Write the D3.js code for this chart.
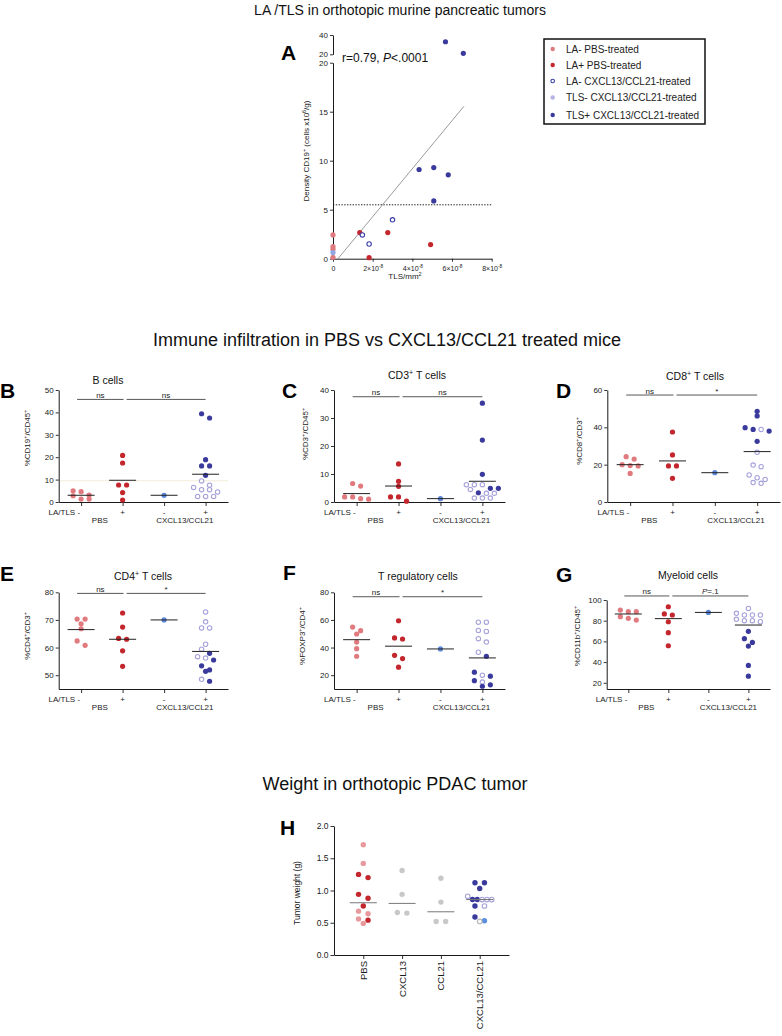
<!DOCTYPE html>
<html><head><meta charset="utf-8">
<script src="https://cdn.jsdelivr.net/npm/d3@7"></script>
<style>body{margin:0;background:#fff}svg{display:block}</style>
</head><body><svg id="c" width="782" height="1036"></svg>
<script>
// ================= DATA =================
const sectionTitles = ["LA /TLS in orthotopic murine pancreatic tumors",
  "Immune infiltration in PBS vs CXCL13/CCL21 treated mice",
  "Weight in orthotopic PDAC tumor"];

// ---- Panel A ----
const aSeries = ["LA- PBS-treated","LA+ PBS-treated","LA- CXCL13/CCL21-treated","TLS- CXCL13/CCL21-treated","TLS+ CXCL13/CCL21-treated"];
const aX = [0,0,0,0, 0, 1.35e-8,1.82e-8,2.76e-8,4.92e-8, 1.48e-8,1.82e-8,3.0e-8, 4.34e-8,5.08e-8,5.81e-8,5.08e-8,5.67e-8,6.57e-8];
const aY = [2.43,1.23,0.96,0.14, 0.62, 2.67,0.1,2.67,1.44, 2.43,1.5,3.97, 9.1,9.3,8.56,5.9,33,21];
const aS = [0,0,0,0, 3, 1,1,1,1, 2,2,2, 4,4,4,4,4,4];
const aTicksX = [0,2e-8,4e-8,6e-8,8e-8];
const aTicksYLow = [0,5,10,15,20];
const aTicksYHigh = [20,40];
const aFitX = [0.25e-8, 6.6e-8];
const aFitY = [0, 15.55];
const aThreshold = 5.5;

// ---- Panels B-G ----
const immuneGroups = ["PBS -","PBS +","CXCL13/CCL21 -","CXCL13/CCL21 +"];
const panelTitles = ["B cells","CD3+ T cells","CD8+ T cells","CD4+ T cells","T regulatory cells","Myeloid cells"];

const bVals = [[5.0,4.6,3.1,2.8,1.3,1.3],[20.8,17.4,7.6,7.6,4.2,0.9],[3.0],[39.4,37.5,18.9,16.1,16.1,11.9]];
const bOpen = [9.4,7.5,6.5,5.5,5.5,4.5,2.5,2.5,2.5];
const bMedians = [3.0,9.7,3.0,12.4];
const bSig = ["ns","ns"], bSigLevel = 45.8, bRefLine = 9.5;

const cVals = [[6.6,5.7,1.8,1.8,1.2,1.0],[13.6,7.4,5.6,1.8,1.8,0.3],[1.2],[35.3,22.1,9.9,4.9,4.9,3.3]];
const cOpen = [6.2,6.2,6.2,4.5,3.1,3.1,1.4,1.4,1.4];
const cMedians = [3.0,5.7,1.2,7.4];
const cSig = ["ns","ns"], cSigLevel = 37.6;

const dVals = [[24.3,23.0,20.0,19.5,19.3,15.3],[37.5,25.2,19.3,19.3,12.7],[15.7],[48.6,46.1,39.8,38.9,38.0,32.5]];
const dOpen = [38.9,26.6,19.8,18.9,14.5,13.0,12.1,10.4,10.0];
const dMedians = [20.0,22.0,15.7,27.0];
const dSig = ["ns","*"], dSigLevel = 57.3;

const eVals = [[70.3,70.3,68.6,66.8,62.4,60.8],[72.5,67.4,63.3,63.0,58.8,53.2],[70.0],[57.9,55.5,53.4,51.9,51.4,47.8]];
const eOpen = [72.9,69.3,67.1,67.1,61.2,59.4,56.7,56.2,48.5];
const eMedians = [66.5,63.0,70.0,58.6];
const eSig = ["ns","*"], eSigLevel = 79.6;

const fVals = [[54.8,52.2,49.8,44.0,39.2,33.7],[59.4,47.0,46.2,34.4,32.0,25.8],[39.0],[33.7,22.2,19.3,16.0,13.0,12.0]];
const fOpen = [58.4,58.4,52.4,51.7,46.4,44.0,36.6,20.0,15.0];
const fMedians = [45.7,41.0,39.0,32.5];
const fSig = ["ns","*"], fSigLevel = 76.8;

const gVals = [[90.3,88.7,88.7,83.9,82.3,80.6],[93.5,86.5,85.5,79.0,68.4,55.8],[88.0],[69.7,62.6,59.0,55.5,36.8,26.4]];
const gOpen = [91.9,87.1,85.5,85.5,85.5,81.3,80.0,80.0,79.0];
const gMedians = [86.5,82.0,88.0,75.8];
const gSig = ["ns","P=.1"], gSigLevel = 103.9;

// ---- Panel H ----
const hGroups = ["PBS","CXCL13","CCL21","CXCL13/CCL21"];
const hPbsNeg = [1.71,1.42,0.68,0.64,0.56,0.49];
const hPbsPos = [1.25,1.20,0.94,0.88,0.76,0.54];
const hCxcl13 = [1.31,0.94,0.66,0.65];
const hCcl21 = [1.19,0.82,0.52,0.52];
const hComboFilled = [1.12,1.12,1.03,0.86,0.86,0.76,0.59];
const hComboOpen = [0.91,0.86,0.86,0.76,0.86];
const hComboGrayOpen = [0.52];
const hComboLight = [0.53];
const hMedians = [0.81,0.80,0.67,0.86];
const hTicks = [0,0.5,1.0,1.5,2.0];

// ================= DRAW =================
const FONT = '"Liberation Sans", Arial, Helvetica, sans-serif';
const svg = d3.select("#c").attr("font-family", FONT);
const INK = "#1a1a1a";
const ST = {
  pbsNeg: {fill:"#e07a7f"}, pbsPos:{fill:"#c3262c"}, cxNeg:{fill:"#5b85d6"},
  cxOpen: {fill:"#fff", stroke:"#a6a2da"}, cxPos:{fill:"#393a9c"},
  laNegCx:{fill:"#fff", stroke:"#3b3fa6"}, tlsNegA:{fill:"#8ea6e4"}, tlsNegLeg:{fill:"#b5b3e2"},
  pbsNegH:{fill:"#e8999d"}, gray:{fill:"#c8c8c8"}, grayOpen:{fill:"#fff", stroke:"#b8b8b8"}, light:{fill:"#5b8fe0"}
};
const aStyleKeys = ["pbsNeg","pbsPos","laNegCx","tlsNegA","cxPos"];
const aLegendKeys = ["pbsNeg","pbsPos","laNegCx","tlsNegLeg","cxPos"];

function dot(g, x, y, key, r) {
  const s = ST[key];
  const c = g.append("circle").attr("cx", x).attr("cy", y);
  if (s.stroke) c.attr("r", (r||2.6)-0.4).attr("fill", s.fill).attr("stroke", s.stroke).attr("stroke-width", 1.1);
  else c.attr("r", r||2.6).attr("fill", s.fill);
}
function rich(t, parts, size) {
  let up = false;
  parts.forEach(([s, k]) => {
    const ts = t.append("tspan").text(s);
    if (k === "sup") { ts.attr("font-size", size*0.68).attr("dy", up ? 0 : -size*0.42); up = true; }
    else { ts.attr("dy", up ? size*0.42 : 0); up = false; if (k === "i") ts.attr("font-style","italic"); }
  });
  return t;
}
function supParts(str) {
  const parts = []; const re = /([A-Za-z0-9])\+/g; let last = 0, m;
  while ((m = re.exec(str))) { parts.push([str.slice(last, m.index+1), ""]); parts.push(["+","sup"]); last = m.index+2; }
  parts.push([str.slice(last), ""]); return parts;
}
function axisStyle(g, fs) {
  g.attr("font-family", FONT).attr("font-size", fs);
  g.selectAll("path.domain").attr("stroke", INK).attr("stroke-width", 1);
  g.selectAll(".tick line").attr("stroke", INK).attr("stroke-width", 0.9);
  g.selectAll(".tick text").attr("fill", INK);
}
function letter(x, y, s) {
  svg.append("text").attr("x", x).attr("y", y).attr("font-size", 21).attr("font-weight", "bold").attr("fill", "#000").text(s);
}
// GraphPad-like scatter: points with close y-values share a row, centred on the column
function scatterRows(vals, x0, y, s, maxHalf, thr) {
  const pts = vals.slice().sort((a, b) => b.v - a.v);
  pts.forEach(p => p.y = y(p.v));
  const bins = [];
  pts.forEach(p => {
    const b = bins[bins.length - 1];
    if (b && Math.abs(p.y - b[0].y) < thr) b.push(p); else bins.push([p]);
  });
  bins.forEach(b => {
    const n = b.length;
    const sp = n > 1 ? Math.min(s, 2 * maxHalf / (n - 1)) : 0;
    b.forEach((p, i) => p.x = x0 + (i - (n - 1) / 2) * sp);
  });
  return pts;
}

// Section titles
svg.append("text").attr("x", 400).attr("y", 15).attr("text-anchor","middle").attr("font-size", 14).attr("fill","#111").text(sectionTitles[0]);
svg.append("text").attr("x", 387).attr("y", 346).attr("text-anchor","middle").attr("font-size", 18).attr("fill","#111").text(sectionTitles[1]);
svg.append("text").attr("x", 395).attr("y", 790).attr("text-anchor","middle").attr("font-size", 18).attr("fill","#111").text(sectionTitles[2]);

// ---------- Panel A ----------
(function(){
  const g = svg.append("g");
  const x = d3.scaleLinear().domain([0, 8e-8]).range([333, 491.7]);
  const yLow = d3.scaleLinear().domain([0, 20]).range([258.7, 62.7]);
  const yHigh = d3.scaleLinear().domain([20, 40]).range([54.3, 35]);
  const y = v => v <= 20 ? yLow(v) : yHigh(v);
  g.append("g").attr("transform","translate(333,0)").call(d3.axisLeft(yLow).tickValues(aTicksYLow).tickSize(3).tickPadding(2).tickSizeOuter(0)).call(axisStyle, 8);
  g.append("g").attr("transform","translate(333,0)").call(d3.axisLeft(yHigh).tickValues(aTicksYHigh).tickSize(3).tickPadding(2).tickSizeOuter(0)).call(axisStyle, 8);
  const xa = g.append("g").attr("transform","translate(0,258.7)").call(d3.axisBottom(x).tickValues(aTicksX).tickSize(3).tickPadding(3).tickSizeOuter(0).tickFormat("")).call(axisStyle, 7);
  xa.selectAll(".tick").each(function(d){
    const t = d3.select(this).append("text").attr("y", 12).attr("text-anchor","middle").attr("fill", INK).attr("font-size", 7);
    if (d === 0) t.text("0"); else rich(t, [[String(Math.round(d/1e-8)) + "×10", ""], ["-8","sup"]], 7);
  });
  g.append("line").attr("x1", x(0)).attr("x2", x(8e-8)).attr("y1", y(aThreshold)).attr("y2", y(aThreshold))
    .attr("stroke", "#222").attr("stroke-width", 1).attr("stroke-dasharray", "1.4,1.4");
  g.append("line").attr("x1", x(aFitX[0])).attr("y1", y(aFitY[0])).attr("x2", x(aFitX[1])).attr("y2", y(aFitY[1]))
    .attr("stroke", "#9a9a9a").attr("stroke-width", 1);
  aX.forEach((xv, i) => dot(g, x(xv), y(aY[i]), aStyleKeys[aS[i]], 2.6));
  rich(g.append("text").attr("x", 342).attr("y", 62).attr("font-size", 12).attr("fill", "#111"),
    [["r=0.79, ",""],["P","i"],["<.0001",""]], 12);
  rich(g.append("text").attr("transform","translate(309,151) rotate(-90)").attr("text-anchor","middle").attr("font-size", 8).attr("fill", INK),
    [["Density CD19",""],["+","sup"],[" (cells x10",""],["6","sup"],["/g)",""]], 8);
  rich(g.append("text").attr("x", 405).attr("y", 279).attr("text-anchor","middle").attr("font-size", 8).attr("fill", INK),
    [["TLS/mm",""],["2","sup"]], 8);
  letter(281, 60, "A");
  g.append("rect").attr("x", 544).attr("y", 39).attr("width", 161).attr("height", 85).attr("fill","none").attr("stroke","#111").attr("stroke-width", 1.5);
  const rows = [49, 65, 81, 97.5, 115];
  aSeries.forEach((s, i) => {
    dot(g, 552.7, rows[i], aLegendKeys[i], 2.2);
    g.append("text").attr("x", 566).attr("y", rows[i] + 3.6).attr("font-size", 10).attr("fill", "#222").text(s);
  });
})();

// ---------- Panels B-G ----------
function dotPanel(cfg) {
  const g = svg.append("g");
  const x = d3.scalePoint().domain(immuneGroups).range([cfg.left, cfg.right]).padding(0.54);
  const y = d3.scaleLinear().domain(cfg.domain).range([cfg.bottom, cfg.top]);
  if (cfg.refLine != null)
    g.append("line").attr("x1", cfg.left).attr("x2", cfg.right).attr("y1", y(cfg.refLine)).attr("y2", y(cfg.refLine))
      .attr("stroke", "#f2ebd9").attr("stroke-width", 1.1);
  g.append("g").attr("transform", `translate(${cfg.left},0)`).call(d3.axisLeft(y).tickValues(cfg.ticks).tickSize(3).tickPadding(2).tickSizeOuter(0)).call(axisStyle, 8);
  g.append("g").attr("transform", `translate(0,${cfg.bottom})`).call(d3.axisBottom(x).tickSize(4).tickFormat("").tickSizeOuter(0)).call(axisStyle, 8);
  const cx = immuneGroups.map(k => x(k));
  const r1 = cfg.bottom + 12.5, r2 = cfg.bottom + 20.5;
  g.append("text").attr("x", cx[0] - 1).attr("y", r1).attr("text-anchor","end").attr("font-size", 8).attr("fill", INK).text("LA/TLS -");
  g.append("text").attr("x", cx[1]).attr("y", r1).attr("text-anchor","middle").attr("font-size", 8).attr("fill", INK).text("+");
  g.append("text").attr("x", cx[2]).attr("y", r1).attr("text-anchor","middle").attr("font-size", 8).attr("fill", INK).text("-");
  g.append("text").attr("x", cx[3]).attr("y", r1).attr("text-anchor","middle").attr("font-size", 8).attr("fill", INK).text("+");
  g.append("text").attr("x", (cx[0]+cx[1])/2 - 2).attr("y", r2).attr("text-anchor","middle").attr("font-size", 8).attr("fill", INK).text("PBS");
  g.append("text").attr("x", (cx[2]+cx[3])/2).attr("y", r2).attr("text-anchor","middle").attr("font-size", 8).attr("fill", INK).text("CXCL13/CCL21");
  const keys = ["pbsNeg","pbsPos","cxNeg","cxPos"];
  cfg.vals.forEach((arr, i) => {
    let pts = arr.map(v => ({v, k: keys[i]}));
    if (i === 3) pts = pts.concat(cfg.open.map(v => ({v, k: "cxOpen"})));
    scatterRows(pts, cx[i], y, 8, 16, 4.5).forEach(p => dot(g, p.x, p.y, p.k, 2.6));
  });
  cfg.medians.forEach((m, i) => {
    g.append("line").attr("x1", cx[i]-13.5).attr("x2", cx[i]+13.5).attr("y1", y(m)).attr("y2", y(m)).attr("stroke", "#222").attr("stroke-width", 1);
  });
  const sy = y(cfg.sigLevel);
  const bars = [[cx[0]-4, cx[1]+1], [cx[1]+4, cx[3]]];
  bars.forEach(([a, b], i) => {
    g.append("line").attr("x1", a).attr("x2", b).attr("y1", sy).attr("y2", sy).attr("stroke", "#444").attr("stroke-width", 0.9);
    const t = g.append("text").attr("x", (a+b)/2).attr("y", sy - 1.5).attr("text-anchor","middle").attr("font-size", 8).attr("fill", "#222");
    const s = cfg.sig[i];
    if (s.startsWith("P")) rich(t, [["P","i"],[s.slice(1),""]], 8); else t.text(s);
  });
  rich(g.append("text").attr("x", cfg.titleX).attr("y", cfg.titleY).attr("text-anchor","middle").attr("font-size", 10.5).attr("fill", "#111"), supParts(cfg.title), 10.5);
  rich(g.append("text").attr("transform", `translate(${cfg.labX},${cfg.labY}) rotate(-90)`).attr("text-anchor","middle").attr("font-size", 8).attr("fill", INK), supParts(cfg.ylab), 8);
  letter(cfg.letX, cfg.letY, cfg.letter);
}

dotPanel({left:58.7, right:228, top:390, bottom:502, domain:[0,50], ticks:[0,10,20,30,40,50], vals:bVals, open:bOpen, medians:bMedians, sig:bSig, sigLevel:bSigLevel, refLine:bRefLine,
  title:panelTitles[0], titleX:108, titleY:384, ylab:"%CD19+/CD45+", labX:30, labY:438, letter:"B", letX:0, letY:398});
dotPanel({left:334, right:505, top:390, bottom:502, domain:[0,40], ticks:[0,10,20,30,40], vals:cVals, open:cOpen, medians:cMedians, sig:cSig, sigLevel:cSigLevel,
  title:panelTitles[1], titleX:417, titleY:379, ylab:"%CD3+/CD45+", labX:308, labY:434, letter:"C", letX:282, letY:398});
dotPanel({left:607.3, right:780, top:390, bottom:502, domain:[0,60], ticks:[0,20,40,60], vals:dVals, open:dOpen, medians:dMedians, sig:dSig, sigLevel:dSigLevel,
  title:panelTitles[2], titleX:695, titleY:380, ylab:"%CD8+/CD3+", labX:582, labY:441, letter:"D", letX:556, letY:398});
dotPanel({left:58.7, right:228, top:592.3, bottom:689, domain:[45,80], ticks:[50,60,70,80], vals:eVals, open:eOpen, medians:eMedians, sig:eSig, sigLevel:eSigLevel,
  title:panelTitles[3], titleX:143, titleY:580, ylab:"%CD4+/CD3+", labX:30, labY:636, letter:"E", letX:0, letY:581});
dotPanel({left:334, right:505, top:592.3, bottom:689, domain:[10,80], ticks:[20,40,60,80], vals:fVals, open:fOpen, medians:fMedians, sig:fSig, sigLevel:fSigLevel,
  title:panelTitles[4], titleX:418, titleY:580, ylab:"%FOXP3+/CD4+", labX:305, labY:636, letter:"F", letX:283, letY:580});
dotPanel({left:606.7, right:770, top:600, bottom:689, domain:[14,100], ticks:[20,40,60,80,100], vals:gVals, open:gOpen, medians:gMedians, sig:gSig, sigLevel:gSigLevel,
  title:panelTitles[5], titleX:688, titleY:579, ylab:"%CD11b+/CD45+", labX:580, labY:636, letter:"G", letX:556, letY:582});

// ---------- Panel H ----------
(function(){
  const g = svg.append("g");
  const x = d3.scalePoint().domain(hGroups).range([334, 509]).padding(0.755);
  const y = d3.scaleLinear().domain([0, 2]).range([955, 826]);
  g.append("g").attr("transform","translate(334,0)").call(d3.axisLeft(y).tickValues(hTicks).tickFormat(d3.format(".1f")).tickSize(3.5).tickPadding(2).tickSizeOuter(0)).call(axisStyle, 8.5);
  g.append("g").attr("transform","translate(0,955)").call(d3.axisBottom(x).tickSize(4).tickFormat("").tickSizeOuter(0)).call(axisStyle, 8.5);
  hGroups.forEach(k => {
    g.append("text").attr("transform", `translate(${x(k)+3.5},961) rotate(-90)`).attr("text-anchor","end").attr("font-size", 9.5).attr("fill", INK).text(k);
  });
  const cols = [
    hPbsNeg.map(v=>({v,k:"pbsNegH"})).concat(hPbsPos.map(v=>({v,k:"pbsPos"}))),
    hCxcl13.map(v=>({v,k:"gray"})),
    hCcl21.map(v=>({v,k:"gray"})),
    hComboFilled.map(v=>({v,k:"cxPos"})).concat(hComboOpen.map(v=>({v,k:"cxOpen"})), hComboGrayOpen.map(v=>({v,k:"grayOpen"})), hComboLight.map(v=>({v,k:"light"})))
  ];
  cols.forEach((pts, i) => scatterRows(pts, x(hGroups[i]), y, 9.5, 12, 4.5).forEach(p => dot(g, p.x, p.y, p.k, 2.7)));
  hMedians.forEach((m, i) => {
    const c = x(hGroups[i]);
    g.append("line").attr("x1", c-13.5).attr("x2", c+13.5).attr("y1", y(m)).attr("y2", y(m)).attr("stroke", "#777").attr("stroke-width", 1);
  });
  g.append("text").attr("transform","translate(300,893) rotate(-90)").attr("text-anchor","middle").attr("font-size", 8.5).attr("fill", INK).text("Tumor weight (g)");
  letter(280, 835, "H");
})();
</script>
</body></html>
